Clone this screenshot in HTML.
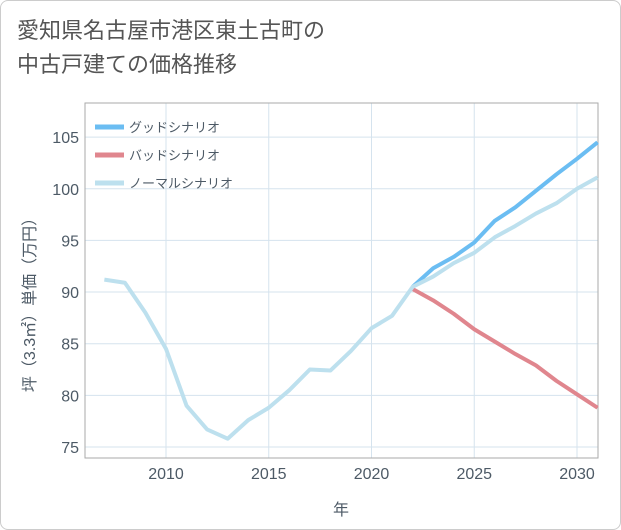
<!DOCTYPE html>
<html><head><meta charset="utf-8"><style>
body{margin:0;background:#fff;}
.card{position:absolute;left:0;top:0;width:619px;height:528px;border:1px solid #ccc;border-radius:8px;background:#fff;overflow:hidden;font-family:"Liberation Sans","Noto Sans CJK JP",sans-serif;}
.title{position:absolute;left:16px;top:13px;font-size:22px;line-height:34px;color:#555;}
</style></head><body>
<div class="card">
<div class="title">愛知県名古屋市港区東土古町の<br>中古戸建ての価格推移</div>
<svg id="chart" width="621" height="530" style="position:absolute;left:0;top:0"></svg>
</div>
<script>
const years=[2007,2008,2009,2010,2011,2012,2013,2014,2015,2016,2017,2018,2019,2020,2021,2022,2023,2024,2025,2026,2027,2028,2029,2030,2031];
const normal=[91.2,90.9,88.0,84.5,79.0,76.7,75.8,77.6,78.8,80.5,82.5,82.4,84.3,86.5,87.7,90.5,91.5,92.8,93.8,95.3,96.4,97.6,98.6,100.0,101.1];
const fYears=[2022,2023,2024,2025,2026,2027,2028,2029,2030,2031];
const good=[90.5,92.3,93.4,94.8,96.9,98.2,99.8,101.4,102.9,104.5];
const bad=[90.3,89.2,87.9,86.4,85.2,84.0,82.9,81.4,80.1,78.8];
const xTicks=[2010,2015,2020,2025,2030];
const yTicks=[75,80,85,90,95,100,105];
const NS="http://www.w3.org/2000/svg";
const svg=document.getElementById('chart');
const L=84,R=597,T=102,B=457;
const x=v=>165+(v-2010)*20.55;
const y=v=>446-(v-75)*10.33;
function mk(tag,attrs){const e=document.createElementNS(NS,tag);for(const k in attrs)e.setAttribute(k,attrs[k]);svg.appendChild(e);return e;}
for(const t of xTicks){const l=mk('line',{x1:x(t),x2:x(t),y1:T,y2:B,stroke:'#d5e3ee','stroke-width':1});


const tx=mk('text',{x:x(t),y:478,'text-anchor':'middle','font-size':16,fill:'#4d5a66'});tx.textContent=t;

}
for(const t of yTicks){const l=mk('line',{x1:L,x2:R,y1:y(t),y2:y(t),stroke:'#d5e3ee','stroke-width':1});


const tx=mk('text',{x:78,y:y(t)+6,'text-anchor':'end','font-size':16,fill:'#4d5a66'});tx.textContent=t;

}
const fr=mk('rect',{x:L,y:T,width:R-L,height:B-T,fill:'none',stroke:'#aaa','stroke-width':1});


function line(xs,vs,color,name){const p=mk('polyline',{points:xs.map((v,i)=>x(v)+','+y(vs[i])).join(' '),fill:'none',stroke:color,'stroke-width':4,'stroke-linejoin':'round'});

}
line(fYears,bad,'#e0868e','bad-scenario-line');
line(fYears,good,'#6bbdf2','good-scenario-line');
line(years,normal,'#bde0ee','normal-scenario-line');
const leg=[['グッドシナリオ','#6bbdf2',126],['バッドシナリオ','#e0868e',154],['ノーマルシナリオ','#bde0ee',182]];
for(const [t,c,yy] of leg){const l=mk('line',{x1:94,x2:123,y1:yy,y2:yy,stroke:c,'stroke-width':5});


const tx=mk('text',{x:128,y:yy+5,'font-size':13,fill:'#4d5a66'});tx.textContent=t;

}
const xt=mk('text',{x:340,y:514,'text-anchor':'middle','font-size':16,fill:'#4d5a66'});xt.textContent='年';


const yt=mk('text',{x:0,y:0,'text-anchor':'middle','font-size':16,fill:'#4d5a66',transform:'translate(34,300) rotate(-90)'});yt.textContent='坪（3.3㎡）単価（万円）';


</script>
</body></html>
